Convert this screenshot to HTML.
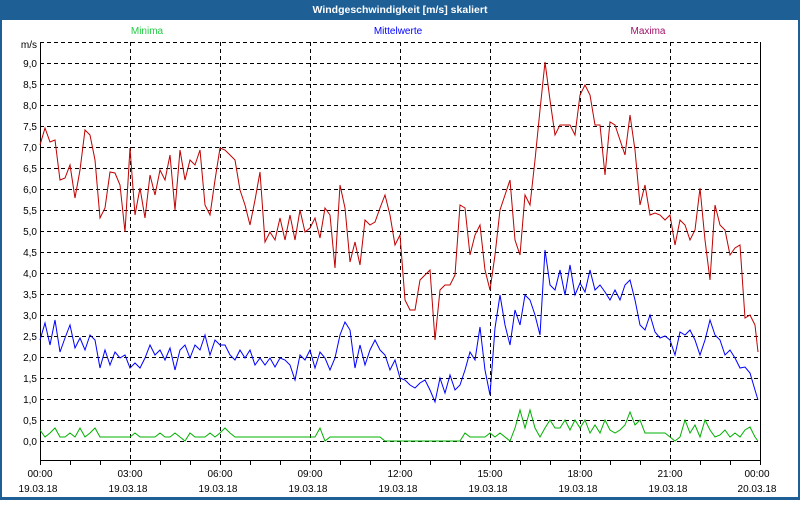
<!DOCTYPE html>
<html><head><meta charset="utf-8"><style>
body{margin:0;width:800px;height:500px;overflow:hidden;background:#fff;font-family:"Liberation Sans",sans-serif}
</style></head><body>
<svg width="800" height="500" xmlns="http://www.w3.org/2000/svg" font-family="Liberation Sans, sans-serif" font-size="10">
<rect x="0" y="0" width="800" height="500" fill="#1e5f96"/>
<rect x="2" y="20" width="796" height="477" fill="#fff"/>
<text x="400" y="13" fill="#fff" font-weight="bold" text-anchor="middle" font-size="10.5">Windgeschwindigkeit [m/s] skaliert</text>
<text x="147" y="34" fill="#22cc44" text-anchor="middle">Minima</text>
<text x="398" y="34" fill="#0000ff" text-anchor="middle">Mittelwerte</text>
<text x="648" y="34" fill="#a0106a" text-anchor="middle">Maxima</text>
<g stroke="#000" stroke-width="1" stroke-dasharray="4,3" fill="none">
<path d="M40 42.5H760M40 63.5H760M40 84.5H760M40 105.5H760M40 126.5H760M40 147.5H760M40 168.5H760M40 189.5H760M40 210.5H760M40 231.5H760M40 252.5H760M40 273.5H760M40 294.5H760M40 315.5H760M40 336.5H760M40 357.5H760M40 378.5H760M40 399.5H760M40 420.5H760M40 441.5H760"/>
<path d="M130.5 42V460M220.5 42V460M310.5 42V460M400.5 42V460M490.5 42V460M580.5 42V460M670.5 42V460"/>
</g>
<path d="M40.5 42V460.5H760.5V42" stroke="#000" fill="none"/>
<g stroke="#000"><path d="M40.5 461v4M70.5 461v4M100.5 461v4M130.5 461v4M160.5 461v4M190.5 461v4M220.5 461v4M250.5 461v4M280.5 461v4M310.5 461v4M340.5 461v4M370.5 461v4M400.5 461v4M430.5 461v4M460.5 461v4M490.5 461v4M520.5 461v4M550.5 461v4M580.5 461v4M610.5 461v4M640.5 461v4M670.5 461v4M700.5 461v4M730.5 461v4M760.5 461v4"/></g>
<g text-anchor="end">
<text x="37" y="48">m/s</text>
<text x="37" y="67">9,0</text><text x="37" y="88">8,5</text><text x="37" y="109">8,0</text><text x="37" y="130">7,5</text><text x="37" y="151">7,0</text><text x="37" y="172">6,5</text><text x="37" y="193">6,0</text><text x="37" y="214">5,5</text><text x="37" y="235">5,0</text><text x="37" y="256">4,5</text><text x="37" y="277">4,0</text><text x="37" y="298">3,5</text><text x="37" y="319">3,0</text><text x="37" y="340">2,5</text><text x="37" y="361">2,0</text><text x="37" y="382">1,5</text><text x="37" y="403">1,0</text><text x="37" y="424">0,5</text><text x="37" y="445">0,0</text>
</g>
<g text-anchor="middle">
<text x="40" y="477">00:00</text><text x="38" y="492">19.03.18</text>
<text x="130" y="477">03:00</text><text x="128" y="492">19.03.18</text>
<text x="220" y="477">06:00</text><text x="218" y="492">19.03.18</text>
<text x="310" y="477">09:00</text><text x="308" y="492">19.03.18</text>
<text x="400" y="477">12:00</text><text x="398" y="492">19.03.18</text>
<text x="490" y="477">15:00</text><text x="488" y="492">19.03.18</text>
<text x="580" y="477">18:00</text><text x="578" y="492">19.03.18</text>
<text x="670" y="477">21:00</text><text x="668" y="492">19.03.18</text>
<text x="757" y="477">00:00</text><text x="757" y="492">20.03.18</text>
</g>
<polyline fill="none" stroke="#c00000" stroke-width="1" points="40,145 45,128 50,142 55,140 60,180 65,178 70,165 75,198 80,170 85,130 90,135 95,160 100,218 105,208 110,172 115,173 120,185 125,232 130,148 135,215 140,188 145,218 150,175 155,195 160,170 165,180 170,155 175,210 180,150 185,180 190,160 195,165 200,150 205,205 210,215 215,180 220,148 225,150 230,155 235,160 240,190 245,205 250,225 255,200 260,172 265,242 270,232 275,240 280,218 285,240 290,215 295,240 300,210 305,232 310,228 315,218 320,238 325,208 330,215 335,268 340,185 345,208 350,262 355,242 360,265 365,220 370,225 375,222 380,208 385,195 390,215 395,245 400,235 405,300 410,310 415,310 420,280 425,275 430,270 435,340 440,290 445,285 450,285 455,275 460,205 465,208 470,255 475,235 480,225 485,270 490,290 495,255 500,210 505,195 510,180 515,240 520,255 525,195 530,205 535,160 540,110 545,62 550,100 555,135 560,125 565,125 570,125 575,135 580,95 585,85 590,95 595,125 600,125 605,175 610,122 615,125 620,140 625,155 630,115 635,150 640,205 645,185 650,215 655,213 660,215 665,220 670,215 675,245 680,220 685,225 690,240 695,230 700,188 705,240 710,280 715,205 720,225 725,230 730,255 735,248 740,245 745,318 750,315 755,325 758,352"/>
<polyline fill="none" stroke="#0000ff" stroke-width="1" points="40,340 45,323 50,345 55,320 60,352 65,338 70,325 75,348 80,338 85,350 90,335 95,340 100,368 105,350 110,365 115,352 120,358 125,355 130,368 135,363 140,368 145,358 150,345 155,355 160,350 165,360 170,348 175,370 180,350 185,345 190,358 195,345 200,350 205,335 210,355 215,340 220,345 225,345 230,355 235,360 240,350 245,358 250,350 255,365 260,358 265,365 270,358 275,367 280,358 285,360 290,365 295,380 300,355 305,360 310,350 315,368 320,352 325,358 330,370 335,358 340,335 345,322 350,330 355,368 360,345 365,365 370,350 375,340 380,350 385,355 390,370 395,360 400,378 405,380 410,385 415,388 420,383 425,380 430,390 435,402 440,378 445,393 450,375 455,390 460,385 465,370 470,352 475,360 480,327 485,370 490,395 495,328 500,295 505,325 510,345 515,310 520,325 525,295 530,300 535,315 540,335 545,250 550,285 555,290 560,270 565,295 570,265 575,295 580,283 585,292 590,270 595,290 600,285 605,292 610,300 615,290 620,300 625,285 630,280 635,300 640,325 645,330 650,315 655,332 660,338 665,336 670,340 675,355 680,332 685,335 690,330 695,340 700,355 705,340 710,320 715,335 720,340 725,355 730,350 735,358 740,368 745,367 750,373 755,390 758,400"/>
<polyline fill="none" stroke="#00b000" stroke-width="1" points="40,430 45,437 50,433 55,428 60,437 65,437 70,433 75,437 80,428 85,437 90,433 95,428 100,437 130,437 135,433 140,437 155,437 160,433 165,437 170,437 175,433 180,437 185,441 190,433 195,437 205,437 210,433 215,437 220,433 225,428 230,433 235,437 315,437 320,428 325,441 330,437 380,437 385,441 460,441 465,433 470,437 485,437 490,433 495,437 500,433 510,441 515,428 520,410 525,428 530,410 535,428 540,437 545,428 550,420 555,428 560,428 565,420 570,430 575,420 580,428 585,420 590,433 595,425 600,433 605,420 610,430 615,433 620,430 625,425 630,412 635,425 640,420 645,433 665,433 670,437 675,441 680,437 685,420 690,433 695,425 700,437 705,420 710,430 715,437 720,435 725,430 730,437 735,433 740,437 745,430 750,427 755,437 758,441"/>
</svg>
</body></html>
